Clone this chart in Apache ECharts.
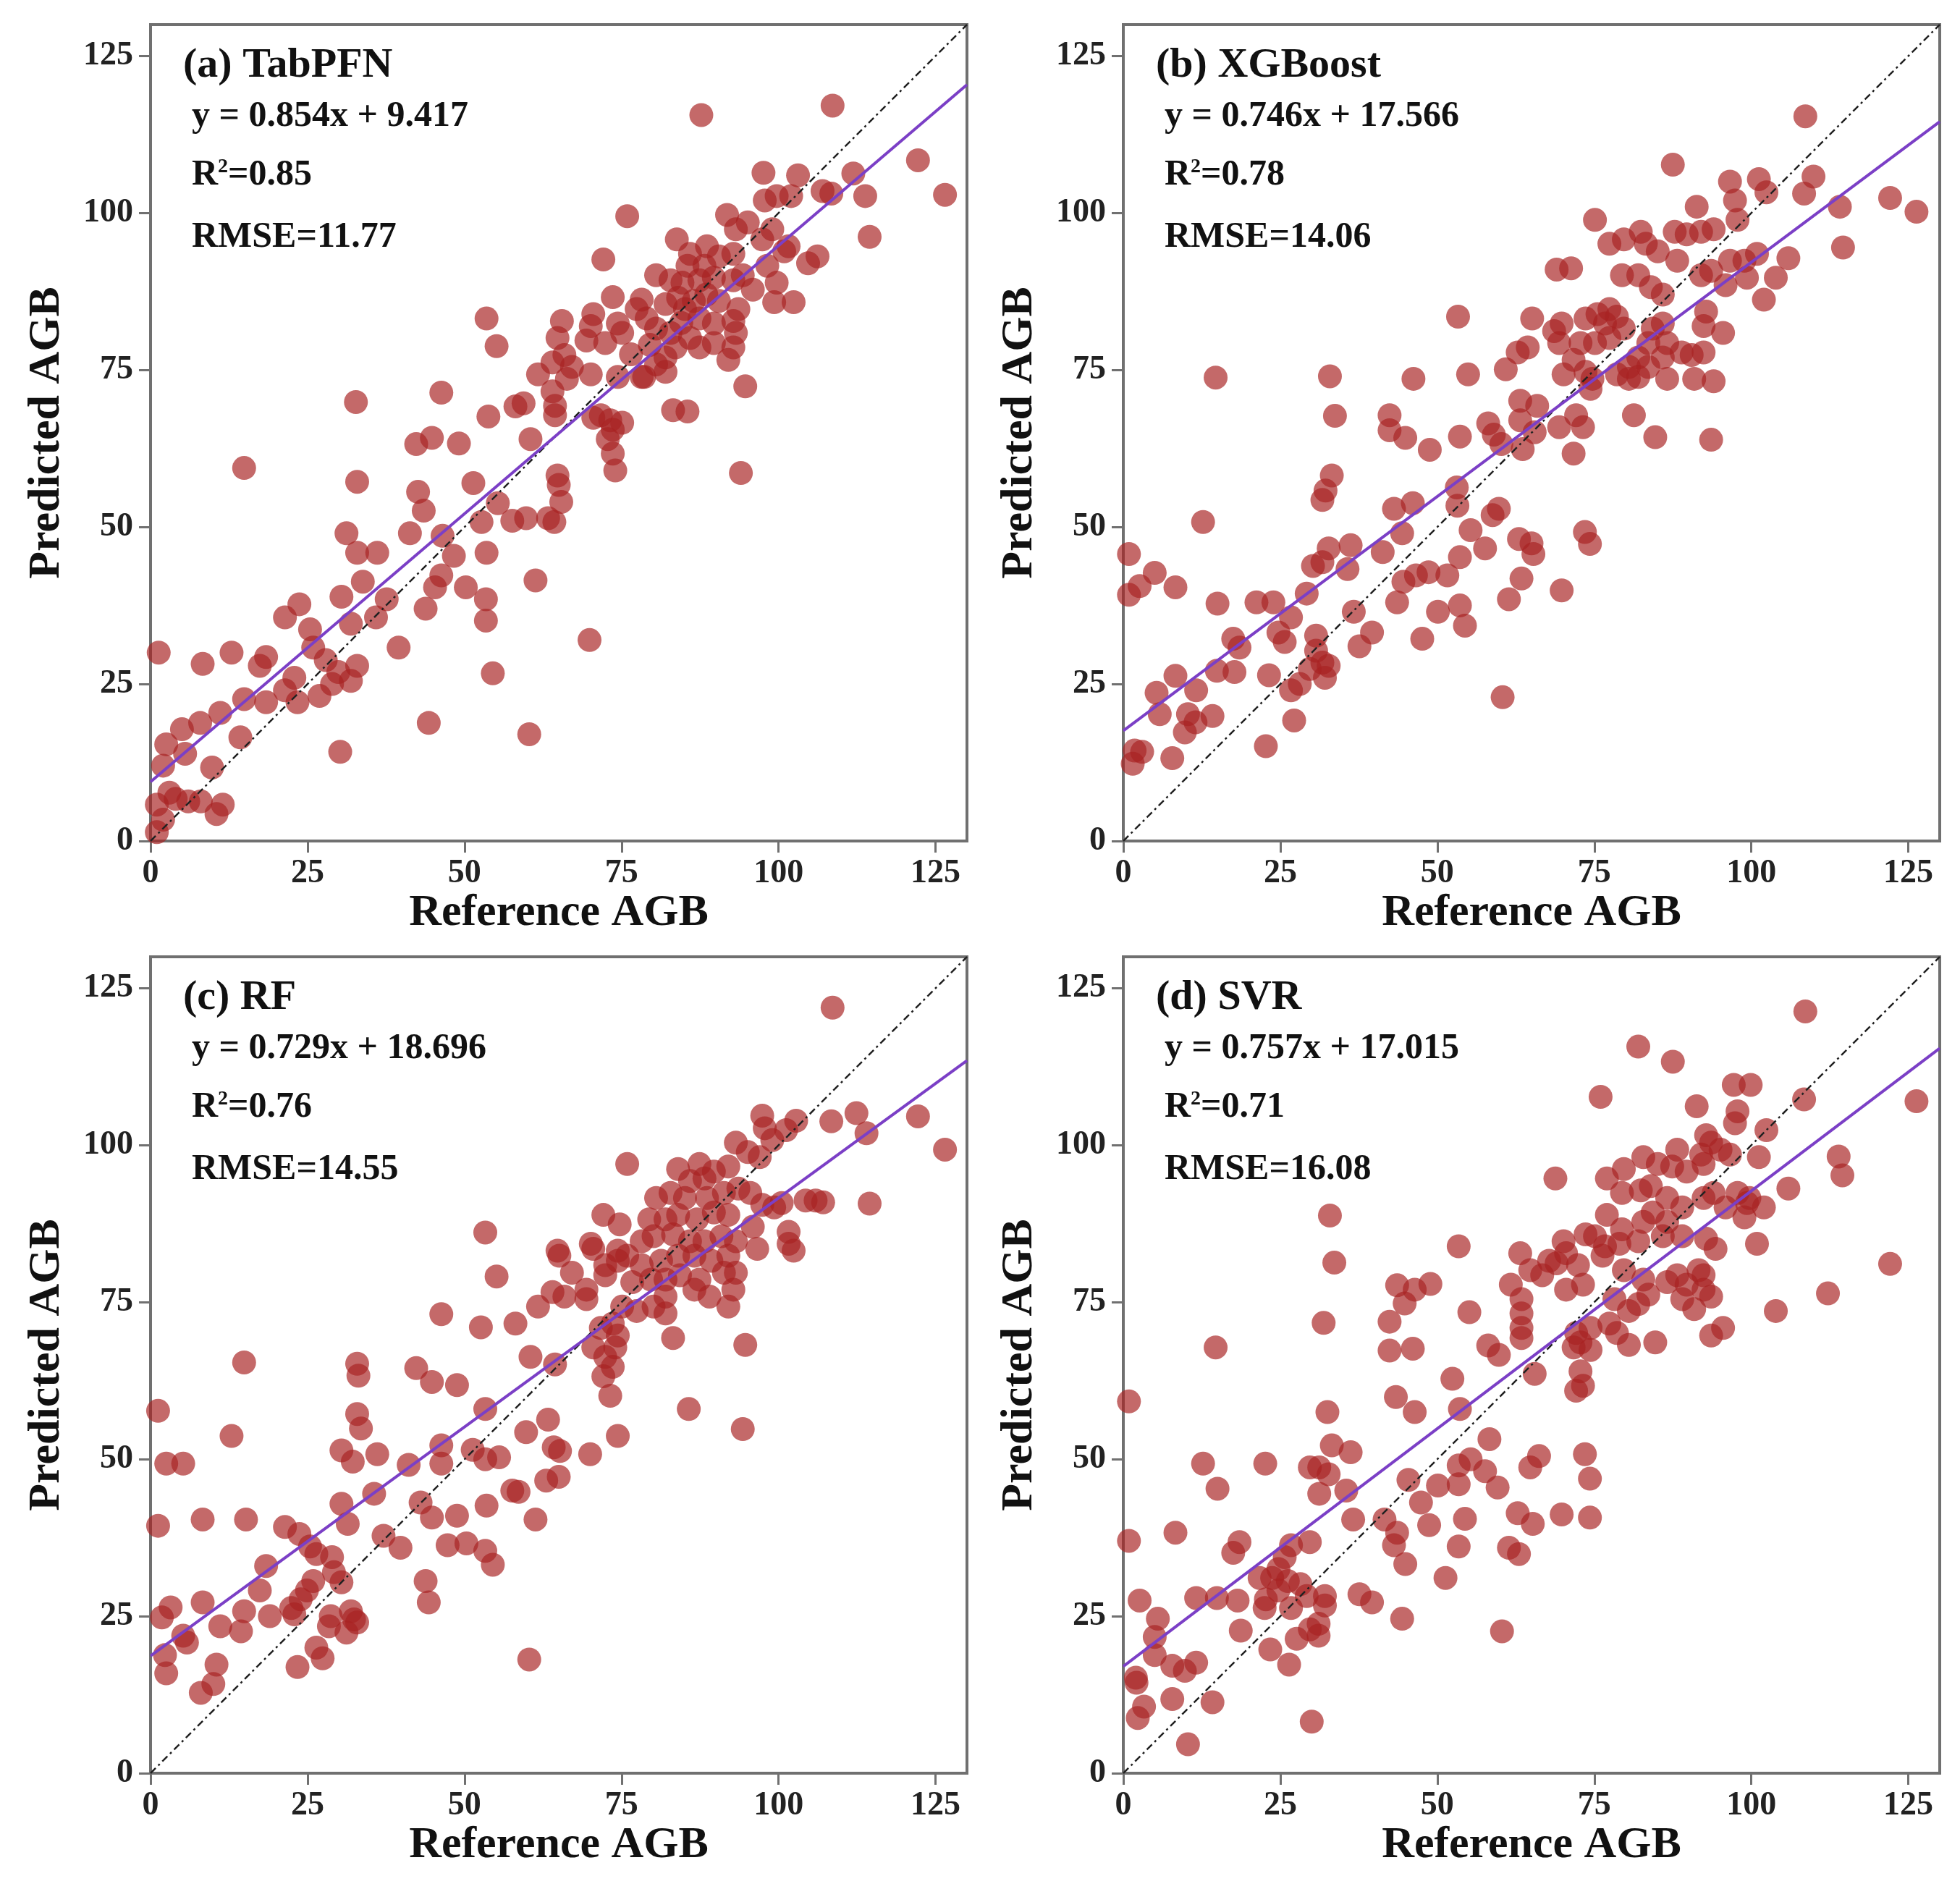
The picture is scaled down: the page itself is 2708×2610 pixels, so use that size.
<!DOCTYPE html>
<html>
<head>
<meta charset="utf-8">
<script src="https://cdn.jsdelivr.net/npm/echarts@6/dist/echarts.min.js"></script>
<style>
  html, body { margin: 0; padding: 0; background: #fff; }
  #chart { width: 2708px; height: 2610px; }
</style>
</head>
<body>
<div id="chart"></div>
<script>
// panel labels and fit stats
const panelNames = ['(a) TabPFN', '(b) XGBoost', '(c) RF', '(d) SVR']
const slopes = [0.854, 0.746, 0.729, 0.757]
const intercepts = [9.417, 17.566, 18.696, 17.015]
const r2Values = ['0.85', '0.78', '0.76', '0.71']
const rmseValues = ['11.77', '14.06', '14.55', '16.08']
const axisTicks = [0, 25, 50, 75, 100, 125]

// [reference, predicted]
const tabpfnPoints = [
  [87.7,115.6],[108.6,117.1],[122.2,108.4],[126.5,102.9],[111.9,106.3],[113.8,102.7],[114.5,96.2],[108.4,103.1],[103.1,106.0],[97.6,106.4],
  [53.5,83.2],[55.1,78.8],[46.3,71.4],[32.7,69.9],[14.9,59.4],[32.9,57.2],[42.3,63.2],[44.8,64.2],[49.1,63.3],[53.8,67.6],[58.1,69.2],
  [69.9,32.0],[60.3,17.0],[44.3,18.8],[54.5,26.7],[30.2,14.2],[61.3,41.5],[50.2,40.4],[53.4,38.5],[53.4,35.1],[53.5,45.9],[51.4,57.0],
  [52.7,50.8],[57.6,51.0],[59.8,51.4],[63.3,51.4],[64.3,50.8],[65.0,56.7],[65.4,54.0],[55.3,53.8],[42.6,55.6],[43.5,52.6],
  [41.3,49.0],[46.5,48.6],[48.3,45.4],[46.3,42.3],[45.3,40.4],[43.8,37.0],[31.2,49.0],[32.9,45.9],[36.1,45.9],[33.8,41.3],
  [30.4,38.9],[37.6,38.5],[39.5,30.8],[35.9,35.6],[31.9,34.6],[21.4,35.6],[23.7,37.7],[25.4,33.7],[25.9,30.8],[27.9,28.8],
  [29.9,26.9],[32.9,27.9],[31.9,25.5],[28.9,25.0],[26.9,23.1],[22.9,26.0],[23.4,22.1],[21.4,24.0],[18.4,29.3],[17.4,27.9],
  [18.4,22.1],[14.9,22.6],[12.9,30.0],[8.3,28.2],[11.1,20.4],[7.9,18.8],[14.3,16.5],[5.0,17.8],[2.5,15.4],[5.5,13.9],
  [2.0,12.0],[9.8,11.7],[1.3,30.0],[3.0,7.7],[6.0,6.3],[8.0,6.3],[11.5,5.8],[10.5,4.3],[1.0,5.8],[2.0,3.4],
  [1.0,1.4],[4.0,6.7],
  [75.9,99.5],[72.1,92.6],[83.8,95.8],[91.8,99.7],[97.8,102.0],[99.7,102.7],[102.0,102.7],[107.0,103.5],[93.2,97.4],[95.1,98.5],
  [99.0,97.4],[97.4,95.8],[100.9,93.9],[101.6,94.7],[104.7,92.0],[106.2,93.1],[88.6,94.7],[85.9,93.5],[85.5,91.6],[88.2,91.6],
  [90.5,93.1],[92.8,93.5],[80.5,90.1],[82.8,89.3],[84.7,88.9],[87.4,89.3],[89.7,89.7],[92.8,89.3],[94.3,90.1],[98.2,91.6],
  [99.7,88.9],[102.4,85.8],[99.3,85.8],[95.9,87.8],[93.6,84.7],[92.8,82.8],[93.2,80.9],[92.8,78.6],[92.0,76.6],[89.7,79.3],
  [87.4,78.6],[85.9,80.1],[89.7,82.4],[87.4,83.2],[85.1,84.7],[82.0,85.5],[78.2,86.2],[77.4,84.7],[79.0,83.2],[80.5,81.6],
  [82.8,80.9],[83.6,78.6],[82.0,77.0],[80.5,75.9],[82.0,74.7],[78.2,73.9],[73.6,86.6],[70.5,83.9],[70.1,82.0],[74.4,82.4],
  [75.1,80.9],[69.4,79.7],[72.4,79.3],[65.5,82.8],[64.8,80.1],[65.9,77.4],[64.0,76.2],[61.7,74.3],[67.1,75.5],[70.1,74.3],
  [74.4,73.9],[78.6,73.9],[64.0,71.6],[64.4,69.3],[64.4,67.8],[66.3,73.6],[59.4,69.7],[71.7,67.8],[73.2,67.0],[73.6,65.5],
  [72.8,64.0],[73.6,61.7],[74.0,59.0],[70.5,67.4],[75.1,66.6],[94.7,72.4],[83.2,68.6],[85.5,68.4],[60.5,64.0],[64.8,58.2],
  [94.0,58.6],[84.0,86.5],[86.5,86.0],[90.5,86.0],[79.5,79.0],[76.5,77.5],[84.5,82.5],[88.5,87.0]
]

const xgboostPoints = [
  [108.6,115.4],[87.5,107.7],[109.9,105.8],[108.4,103.1],[122.1,102.4],[126.3,100.2],[114.1,101.0],[114.6,94.5],
  [53.3,83.5],[54.9,74.3],[46.2,73.6],[32.9,74.0],[14.7,73.8],[33.7,67.7],[42.4,67.8],[42.4,65.4],[44.9,64.2],[48.8,62.3],
  [53.6,64.4],[58.1,66.5],[33.2,58.2],
  [32.2,55.8],[31.7,54.3],[12.7,50.8],[0.9,45.7],[0.9,39.2],[2.6,40.6],[5.0,42.7],[8.3,40.4],[15.0,37.8],[21.2,38.0],
  [23.9,38.0],[26.7,35.6],[24.7,33.2],[25.7,31.7],[17.5,32.2],[18.5,30.8],[17.7,26.9],[14.9,27.1],[8.3,26.3],[5.3,23.6],
  [5.8,20.2],[11.6,24.0],[10.3,20.2],[11.5,18.9],[9.8,17.3],[14.2,19.9],[7.8,13.2],[1.8,14.4],[3.0,14.2],[1.5,12.3],
  [22.7,15.1],[27.2,19.2],[26.7,24.0],[23.2,26.4],[28.1,25.0],[29.7,27.4],[30.7,30.3],[31.7,28.4],[32.1,26.0],[32.7,27.9],
  [30.7,32.7],[29.2,39.4],[30.2,43.8],[31.7,44.4],[32.7,46.6],[36.2,47.1],[35.7,43.3],[36.7,36.5],[37.6,31.0],[39.6,33.2],
  [41.3,46.0],[43.1,52.9],[44.4,49.0],[46.1,53.8],[44.6,41.3],[43.6,38.0],[46.6,42.3],[48.6,42.8],[51.6,42.3],[50.1,36.5],
  [47.6,32.2],[53.6,37.5],[54.4,34.3],[53.6,45.2],[53.2,53.4],[53.1,56.3],[55.3,49.5],[57.6,46.6],[59.8,52.9],[58.8,51.9],
  [61.4,38.5],[60.4,22.9],[63.0,48.1],[63.4,41.8],[65.0,47.4],[65.3,45.7],[69.8,39.9],[73.5,49.2],[74.3,47.3],
  [75.1,98.9],[69.0,91.0],[71.3,91.2],[91.3,101.0],[96.6,105.0],[101.2,105.4],[102.4,103.3],[97.4,102.0],[97.8,98.9],[77.4,95.1],
  [79.7,95.8],[82.4,97.0],[83.2,95.1],[85.1,93.9],[87.8,97.0],[89.7,96.6],[92.0,97.0],[94.0,97.4],[88.2,92.4],[92.0,90.1],
  [93.6,90.8],[96.6,92.4],[98.9,92.4],[100.9,93.5],[99.3,89.7],[95.9,88.5],[102.0,86.2],[103.9,89.7],[105.9,92.8],[79.4,90.1],
  [82.0,90.1],[84.0,88.2],[85.9,87.0],[92.8,84.3],[92.4,82.0],[95.5,80.9],[90.5,77.4],[92.4,77.8],[94.0,73.2],[90.9,73.6],
  [86.6,73.6],[88.9,77.8],[86.6,79.3],[83.6,79.3],[82.0,77.0],[80.5,75.5],[82.0,73.9],[83.6,75.5],[85.9,77.0],[84.3,81.6],
  [85.9,82.4],[77.4,84.7],[75.5,83.9],[73.6,83.2],[76.7,82.4],[78.6,83.5],[79.7,81.6],[77.4,80.1],[75.1,79.3],[72.8,79.3],
  [69.8,82.4],[68.6,81.2],[69.4,79.3],[65.1,83.2],[64.4,78.6],[62.8,77.8],[60.9,75.1],[71.7,76.6],[70.1,74.3],[73.6,74.7],
  [74.7,73.6],[74.4,72.0],[78.6,74.3],[80.5,73.6],[63.2,70.1],[65.9,69.3],[63.2,67.0],[65.5,65.1],[63.6,62.4],[69.4,65.9],
  [72.1,67.8],[73.2,65.9],[71.7,61.7],[59.0,64.7],[60.2,63.2],[81.3,67.8],[84.7,64.3],[93.6,63.9]
]

const rfPoints = [
  [108.6,121.9],[122.2,104.6],[126.5,99.3],[112.4,105.1],[114.0,101.9],[114.5,90.7],[108.4,103.8],[107.1,90.9],
  [53.3,86.1],[55.1,79.1],[46.3,73.1],[52.6,71.0],[58.1,71.6],[42.3,64.5],[44.8,62.3],[48.8,61.8],[32.9,65.2],[33.1,63.3],
  [14.9,65.4],[32.9,57.2],[33.5,54.9],[30.4,51.4],[94.3,54.8],[85.7,58.0],
  [32.2,49.6],[36.1,50.8],[41.1,49.1],[46.3,52.2],[46.3,49.3],[53.3,58.0],[51.3,51.5],[53.3,50.0],[55.5,50.3],[59.8,54.3],
  [63.3,56.3],[64.2,51.9],[65.2,51.3],[65.0,47.2],[63.0,46.6],[70.0,50.8],[74.4,53.7],[12.9,53.7],[2.5,49.3],[5.2,49.3],
  [1.2,57.7],[1.2,39.4],[8.3,40.4],[15.2,40.4],[30.4,42.9],[31.4,39.7],[35.6,44.5],[37.1,37.8],[39.8,35.9],[43.0,43.1],
  [44.8,40.7],[48.8,41.0],[47.3,36.3],[50.3,36.6],[53.3,35.4],[54.5,33.2],[53.5,42.6],[57.6,45.0],[58.6,44.8],[61.3,40.4],
  [60.3,18.1],[43.8,30.6],[44.3,27.2],[21.4,39.2],[23.7,38.1],[25.4,36.1],[26.4,34.9],[28.9,34.4],[29.2,32.0],[30.4,30.4],
  [25.9,30.6],[24.9,29.1],[23.9,27.7],[22.4,26.3],[22.9,25.3],[28.7,25.0],[31.9,25.8],[32.4,24.5],[32.9,24.0],[28.4,23.4],
  [31.2,22.4],[26.4,20.0],[27.4,18.3],[23.4,16.9],[18.4,33.0],[17.4,29.1],[19.0,25.0],[14.9,25.8],[14.4,22.6],[11.1,23.4],
  [8.3,27.2],[3.2,26.4],[1.8,24.8],[5.2,21.9],[5.8,20.8],[2.3,18.8],[2.5,15.9],[10.5,17.3],[10.0,14.2],[8.0,12.8],
  [75.9,97.0],[97.4,104.7],[102.8,103.9],[97.8,102.7],[93.2,100.4],[95.1,98.9],[99.0,100.8],[101.2,102.4],[84.0,96.2],[87.4,97.0],
  [89.7,95.8],[92.0,96.6],[97.0,98.1],[88.2,94.7],[85.9,94.3],[80.5,91.6],[82.8,92.4],[85.1,91.6],[88.6,91.6],[91.3,92.4],
  [93.6,93.1],[95.5,92.4],[72.1,88.9],[74.7,87.4],[79.4,88.2],[82.0,88.2],[84.0,88.9],[87.0,88.2],[89.7,89.3],[92.0,88.9],
  [100.5,90.8],[99.3,90.1],[97.4,90.5],[104.3,91.2],[105.9,91.2],[101.6,86.2],[102.4,83.2],[95.9,87.0],[93.2,84.7],[96.6,83.5],
  [65.1,82.4],[64.8,83.2],[70.1,84.3],[70.5,83.5],[74.4,83.2],[78.2,84.7],[80.1,85.5],[83.2,85.8],[85.9,84.7],[88.2,84.7],
  [90.9,85.5],[92.0,82.4],[89.3,81.6],[86.6,82.4],[84.0,82.4],[81.3,81.6],[78.2,80.9],[75.9,82.4],[74.4,81.6],[72.4,80.9],
  [67.1,79.7],[64.0,76.6],[61.7,74.3],[65.9,75.9],[69.4,77.0],[69.4,75.5],[72.4,79.3],[76.7,78.2],[79.7,78.6],[82.0,78.6],
  [84.3,79.3],[87.4,78.6],[91.3,79.7],[93.2,79.7],[92.8,77.0],[92.0,74.3],[89.0,75.9],[86.6,77.0],[82.0,75.9],[80.1,74.3],
  [77.4,73.6],[75.1,74.3],[82.0,73.2],[83.2,69.3],[94.7,68.2],[60.5,66.3],[64.4,65.1],[70.5,67.8],[71.7,70.9],[73.6,71.6],
  [74.4,69.7],[74.0,67.8],[72.4,66.3],[73.6,64.7],[72.1,63.2],[73.2,60.1],[101.6,84.3]
]

const svrPoints = [
  [108.6,121.3],[82.0,115.7],[87.5,113.3],[76.0,107.7],[97.2,109.6],[99.9,109.6],[108.4,107.3],[126.3,107.0],[122.1,81.1],
  [112.2,76.4],[113.9,98.2],[114.5,95.2],[53.4,83.9],[33.6,81.3],[32.9,88.8],[31.9,71.7],[14.7,67.8],[0.9,59.2],
  [32.5,57.5],[33.2,52.2],[31.2,48.7],[29.7,48.7],[31.2,44.5],[32.7,47.6],[36.2,51.1],[35.5,45.0],[22.6,49.3],[12.7,49.3],
  [15.0,45.3],[0.9,37.0],[8.3,38.3],[18.5,36.8],[17.5,35.1],[36.6,40.4],[41.6,40.4],[43.6,38.3],[43.1,36.3],[44.9,33.3],
  [44.4,24.6],[39.6,27.2],[37.6,28.5],[29.7,36.8],[26.7,36.3],[25.7,34.4],[24.7,32.5],[26.2,30.6],[23.7,31.1],[21.7,31.1],
  [24.7,29.1],[22.7,27.7],[22.5,26.3],[28.2,30.1],[29.2,28.2],[32.1,28.2],[32.1,26.7],[31.1,23.8],[29.7,22.9],[27.6,21.4],
  [31.1,21.9],[26.7,26.3],[23.4,19.7],[26.4,17.3],[30.0,8.2],[18.2,27.5],[18.7,22.7],[14.9,27.9],[11.6,27.9],[5.5,24.6],
  [5.0,21.7],[5.0,18.8],[2.6,27.5],[11.6,17.6],[9.8,16.3],[7.8,17.1],[7.8,11.8],[14.2,11.3],[10.3,4.6],[2.0,15.2],
  [2.1,14.4],[3.3,10.6],[2.3,8.8],[45.4,46.7],[47.4,43.1],[50.1,45.8],[48.7,39.5],[51.3,31.1],[53.4,49.0],[53.4,46.0],
  [54.4,40.5],[53.4,36.1],[53.6,58.0],[52.4,62.8],[55.1,73.4],[55.3,50.0],[57.6,48.1],[58.3,53.2],[59.6,45.5],[61.4,35.9],
  [63.0,34.9],[60.3,22.6],[62.8,41.4],[65.2,39.7],[64.8,48.7],[66.2,50.5],[69.8,41.2],[73.5,50.8],[74.3,46.9],[74.3,40.7],
  [43.6,77.7],[42.4,71.9],[44.8,74.8],[46.4,77.0],[48.9,77.9],[42.4,67.3],[46.1,67.6],[43.4,59.9],[46.4,57.5],[58.1,68.1],
  [68.8,94.7],[91.3,106.2],[97.8,105.4],[97.4,103.5],[102.4,102.4],[105.9,93.1],[101.2,98.1],[92.8,101.6],[93.6,100.4],[95.1,99.3],
  [92.0,98.5],[92.4,97.0],[96.6,98.5],[88.2,99.3],[82.8,98.1],[85.1,97.0],[87.4,96.6],[89.7,95.8],[79.7,96.2],[77.0,94.7],
  [79.4,92.4],[82.4,92.8],[84.0,93.5],[86.6,91.6],[92.4,91.6],[94.0,92.4],[95.9,90.1],[97.8,92.4],[99.7,91.6],[102.0,90.1],
  [98.9,88.5],[100.9,84.3],[103.9,73.6],[92.8,85.1],[94.3,83.5],[77.0,88.9],[79.4,86.6],[82.8,87.8],[84.3,89.3],[86.6,87.8],
  [89.0,90.1],[89.0,85.5],[85.9,85.5],[82.0,84.7],[79.0,84.3],[76.7,83.9],[75.1,85.5],[73.6,85.8],[70.1,84.7],[70.5,82.8],
  [67.8,81.6],[63.2,82.8],[64.8,80.1],[61.7,77.8],[63.4,75.5],[63.4,73.2],[63.4,70.9],[63.4,69.3],[66.7,79.3],[69.0,81.2],
  [72.4,80.9],[70.5,77.0],[73.2,77.8],[76.3,82.4],[79.7,80.1],[82.8,78.6],[83.6,76.2],[82.0,74.7],[80.5,73.6],[78.2,75.5],
  [77.4,71.6],[80.5,68.2],[84.7,68.6],[86.6,78.2],[88.2,79.3],[89.7,77.8],[91.6,80.1],[92.4,79.3],[89.0,75.5],[90.9,73.9],
  [93.6,75.9],[92.4,77.0],[93.6,69.7],[95.5,70.9],[99.3,90.8],[72.1,70.1],[72.8,68.6],[74.4,67.4],[71.7,67.8],[74.4,70.9],
  [72.8,64.0],[73.2,61.7],[72.1,60.9],[65.5,63.6],[59.8,66.6],[78.6,70.1]
]

const panelPoints = [tabpfnPoints, xgboostPoints, rfPoints, svrPoints]

const FONT = '"Liberation Serif", "Times New Roman", serif'
const AXIS_MAX = 130
const grids = [
  { left: 208, top: 34, width: 1128, height: 1128 },
  { left: 1552, top: 34, width: 1128, height: 1128 },
  { left: 208, top: 1322, width: 1128, height: 1128 },
  { left: 1552, top: 1322, width: 1128, height: 1128 }
]

const chart = echarts.init(document.getElementById('chart'), null, { renderer: 'canvas' })

const axisCommon = {
  type: 'value',
  min: 0,
  max: AXIS_MAX,
  interval: 25,
  nameLocation: 'middle',
  nameTextStyle: { fontFamily: FONT, fontWeight: 'bold', fontSize: 62, color: '#111' },
  axisLine: { show: true, lineStyle: { color: '#707070', width: 4 } },
  axisTick: { show: true, inside: false, length: 16, customValues: axisTicks, lineStyle: { color: '#707070', width: 3 } },
  axisLabel: { customValues: axisTicks, fontFamily: FONT, fontWeight: 'bold', fontSize: 46, color: '#222' },
  splitLine: { show: false }
}

const xAxes = grids.map((g, i) => Object.assign({}, axisCommon, {
  gridIndex: i,
  name: 'Reference AGB',
  nameGap: 68,
  axisLabel: Object.assign({}, axisCommon.axisLabel, { margin: 22 })
}))
const yAxes = grids.map((g, i) => Object.assign({}, axisCommon, {
  gridIndex: i,
  name: 'Predicted AGB',
  nameGap: 112,
  axisLabel: Object.assign({}, axisCommon.axisLabel, { margin: 24 })
}))

const series = []
panelPoints.forEach((pts, i) => {
  series.push({
    type: 'scatter',
    xAxisIndex: i,
    yAxisIndex: i,
    data: pts,
    symbolSize: 33,
    itemStyle: { color: '#a82222', opacity: 0.68 },
    z: 2,
    silent: true
  })
  // 1:1 line
  series.push({
    type: 'line',
    xAxisIndex: i,
    yAxisIndex: i,
    data: [[0, 0], [AXIS_MAX, AXIS_MAX]],
    symbol: 'none',
    lineStyle: { color: '#222', width: 2.5, type: [10, 5, 3, 5] },
    z: 4,
    silent: true
  })
  // fitted line
  series.push({
    type: 'line',
    xAxisIndex: i,
    yAxisIndex: i,
    data: [[0, intercepts[i]], [AXIS_MAX, slopes[i] * AXIS_MAX + intercepts[i]]],
    symbol: 'none',
    lineStyle: { color: '#7b3fc6', width: 4 },
    z: 5,
    silent: true
  })
})

const graphics = []
grids.forEach((g, i) => {
  const sx = g.left + 57
  graphics.push({
    type: 'text', x: g.left + 45, y: g.top + 57, z: 10,
    style: { text: panelNames[i], font: 'bold 58px ' + FONT, fill: '#111', verticalAlign: 'middle' }
  })
  graphics.push({
    type: 'text', x: sx, y: g.top + 127, z: 10,
    style: {
      text: 'y = ' + slopes[i].toFixed(3) + 'x + ' + intercepts[i].toFixed(3),
      font: 'bold 50px ' + FONT, fill: '#111', verticalAlign: 'middle'
    }
  })
  graphics.push({
    type: 'text', x: sx, y: g.top + 208, z: 10,
    style: {
      text: '{r|R}{s|2}{r|=' + r2Values[i] + '}',
      font: 'bold 50px ' + FONT, fill: '#111', verticalAlign: 'middle',
      rich: {
        r: { font: 'bold 50px ' + FONT, fill: '#111', verticalAlign: 'bottom' },
        s: { font: 'bold 28px ' + FONT, fill: '#111', verticalAlign: 'top' }
      }
    }
  })
  graphics.push({
    type: 'text', x: sx, y: g.top + 294, z: 10,
    style: { text: 'RMSE=' + rmseValues[i], font: 'bold 50px ' + FONT, fill: '#111', verticalAlign: 'middle' }
  })
})

chart.setOption({
  backgroundColor: '#fff',
  animation: false,
  grid: grids.map(g => Object.assign({ show: true, borderColor: '#707070', borderWidth: 4, backgroundColor: 'transparent' }, g)),
  xAxis: xAxes,
  yAxis: yAxes,
  series: series,
  graphic: graphics
})
</script>
</body>
</html>
